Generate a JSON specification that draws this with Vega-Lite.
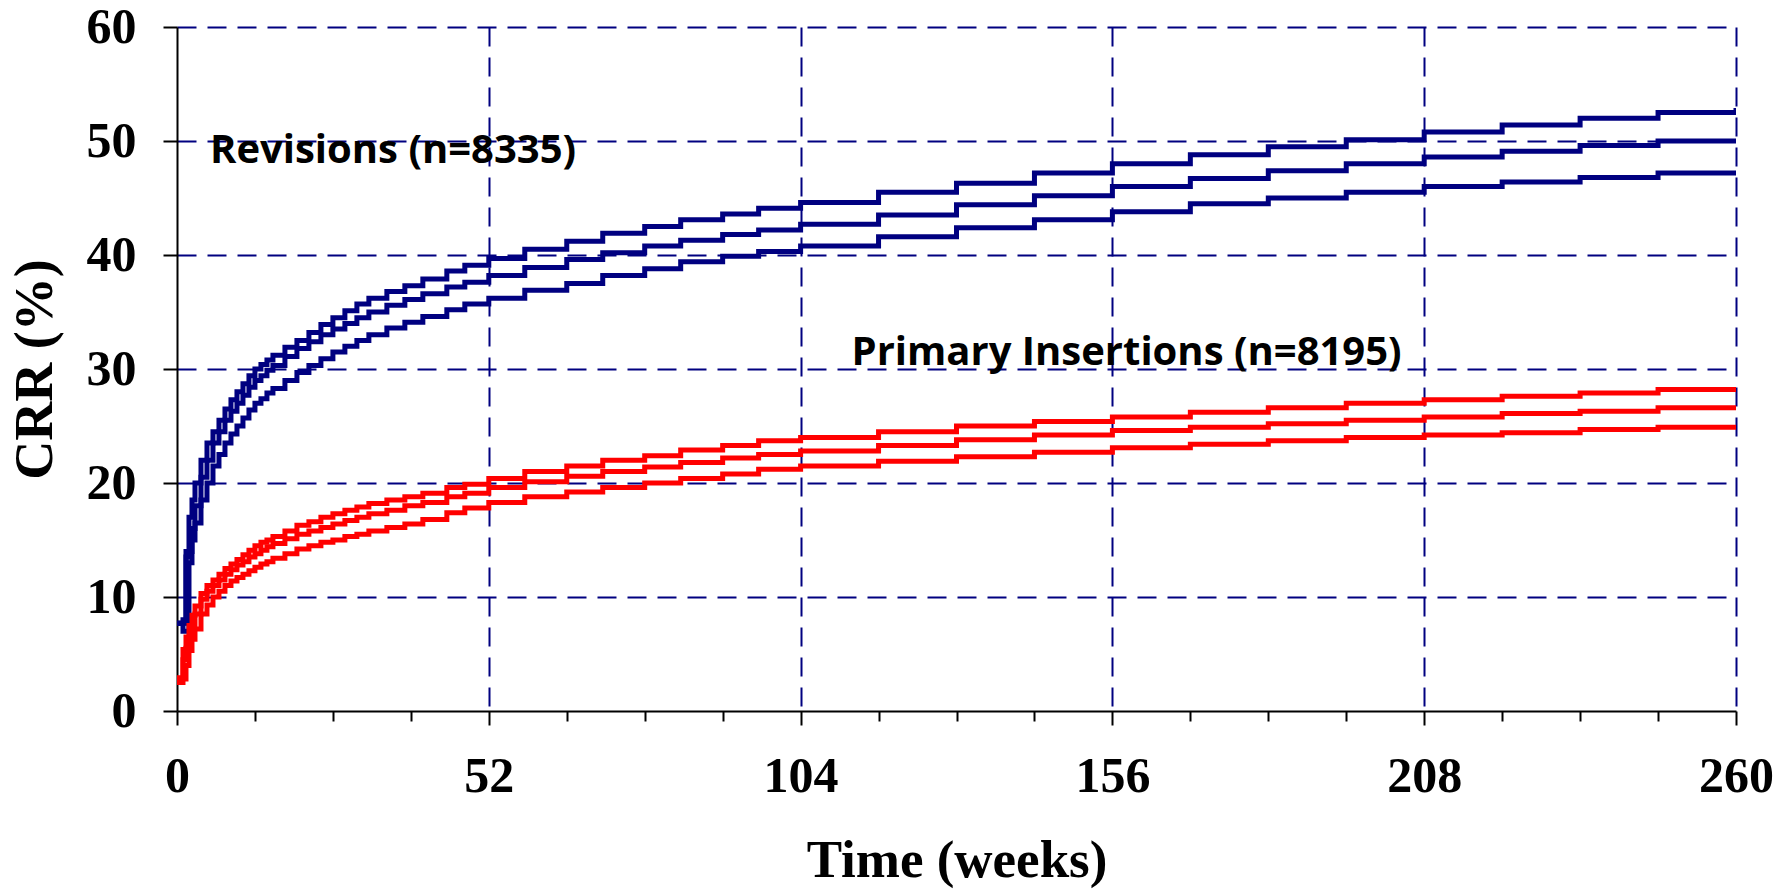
{
  "$schema": "https://vega.github.io/schema/vega-lite/v6.json",
  "width": 1559,
  "height": 684,
  "autosize": {"type": "none"},
  "padding": {"left": 177, "top": 27, "right": 56, "bottom": 182},
  "background": "white",
  "config": {"view": {"stroke": null}},
  "datasets": {
    "curves": [
      {"s":"RU","w":0,"v":7.7},{"s":"RU","w":1,"v":8},{"s":"RU","w":1.5,"v":14},{"s":"RU","w":2,"v":17},{"s":"RU","w":2.5,"v":18.5},{"s":"RU","w":3,"v":20},{"s":"RU","w":4,"v":22},{"s":"RU","w":5,"v":23.5},{"s":"RU","w":6,"v":24.5},{"s":"RU","w":7,"v":25.5},{"s":"RU","w":8,"v":26.5},{"s":"RU","w":9,"v":27.3},{"s":"RU","w":10,"v":28},{"s":"RU","w":11,"v":28.7},{"s":"RU","w":12,"v":29.4},{"s":"RU","w":13,"v":30},{"s":"RU","w":14,"v":30.4},{"s":"RU","w":15,"v":30.8},{"s":"RU","w":16,"v":31.2},{"s":"RU","w":18,"v":31.9},{"s":"RU","w":20,"v":32.5},{"s":"RU","w":22,"v":33.2},{"s":"RU","w":24,"v":33.9},{"s":"RU","w":26,"v":34.5},{"s":"RU","w":28,"v":35.1},{"s":"RU","w":30,"v":35.7},{"s":"RU","w":32,"v":36.2},{"s":"RU","w":35,"v":36.8},{"s":"RU","w":38,"v":37.3},{"s":"RU","w":41,"v":37.9},{"s":"RU","w":45,"v":38.6},{"s":"RU","w":48,"v":39.1},{"s":"RU","w":52,"v":39.7},{"s":"RU","w":58,"v":40.5},{"s":"RU","w":65,"v":41.2},{"s":"RU","w":71,"v":41.9},{"s":"RU","w":78,"v":42.5},{"s":"RU","w":84,"v":43.1},{"s":"RU","w":91,"v":43.6},{"s":"RU","w":97,"v":44.1},{"s":"RU","w":104,"v":44.6},{"s":"RU","w":117,"v":45.5},{"s":"RU","w":130,"v":46.3},{"s":"RU","w":143,"v":47.2},{"s":"RU","w":156,"v":48.0},{"s":"RU","w":169,"v":48.8},{"s":"RU","w":182,"v":49.5},{"s":"RU","w":195,"v":50.1},{"s":"RU","w":208,"v":50.8},{"s":"RU","w":221,"v":51.4},{"s":"RU","w":234,"v":52.0},{"s":"RU","w":247,"v":52.5},{"s":"RU","w":260,"v":52.9},
      {"s":"RM","w":0,"v":7.7},{"s":"RM","w":1,"v":7.7},{"s":"RM","w":1.5,"v":13.5},{"s":"RM","w":2,"v":14},{"s":"RM","w":2.5,"v":16},{"s":"RM","w":3,"v":18},{"s":"RM","w":4,"v":20.5},{"s":"RM","w":5,"v":22},{"s":"RM","w":6,"v":23.5},{"s":"RM","w":7,"v":24.5},{"s":"RM","w":8,"v":25.5},{"s":"RM","w":9,"v":26.3},{"s":"RM","w":10,"v":27},{"s":"RM","w":11,"v":27.7},{"s":"RM","w":12,"v":28.4},{"s":"RM","w":13,"v":29},{"s":"RM","w":14,"v":29.4},{"s":"RM","w":15,"v":29.9},{"s":"RM","w":16,"v":30.3},{"s":"RM","w":18,"v":31.1},{"s":"RM","w":20,"v":31.8},{"s":"RM","w":22,"v":32.4},{"s":"RM","w":24,"v":33},{"s":"RM","w":26,"v":33.5},{"s":"RM","w":28,"v":34},{"s":"RM","w":30,"v":34.5},{"s":"RM","w":32,"v":35},{"s":"RM","w":35,"v":35.6},{"s":"RM","w":38,"v":36.1},{"s":"RM","w":41,"v":36.6},{"s":"RM","w":45,"v":37.2},{"s":"RM","w":48,"v":37.6},{"s":"RM","w":52,"v":38.2},{"s":"RM","w":58,"v":38.9},{"s":"RM","w":65,"v":39.6},{"s":"RM","w":71,"v":40.2},{"s":"RM","w":78,"v":40.8},{"s":"RM","w":84,"v":41.3},{"s":"RM","w":91,"v":41.8},{"s":"RM","w":97,"v":42.2},{"s":"RM","w":104,"v":42.7},{"s":"RM","w":117,"v":43.5},{"s":"RM","w":130,"v":44.4},{"s":"RM","w":143,"v":45.2},{"s":"RM","w":156,"v":46.0},{"s":"RM","w":169,"v":46.7},{"s":"RM","w":182,"v":47.4},{"s":"RM","w":195,"v":48.0},{"s":"RM","w":208,"v":48.6},{"s":"RM","w":221,"v":49.1},{"s":"RM","w":234,"v":49.6},{"s":"RM","w":247,"v":50.0},{"s":"RM","w":260,"v":50.2},
      {"s":"RL","w":0,"v":7.7},{"s":"RL","w":1,"v":7.0},{"s":"RL","w":1.5,"v":7.0},{"s":"RL","w":2,"v":13},{"s":"RL","w":2.5,"v":15},{"s":"RL","w":3,"v":16.5},{"s":"RL","w":4,"v":18.5},{"s":"RL","w":5,"v":20},{"s":"RL","w":6,"v":21.5},{"s":"RL","w":7,"v":22.5},{"s":"RL","w":8,"v":23.5},{"s":"RL","w":9,"v":24.3},{"s":"RL","w":10,"v":25},{"s":"RL","w":11,"v":25.7},{"s":"RL","w":12,"v":26.4},{"s":"RL","w":13,"v":27},{"s":"RL","w":14,"v":27.4},{"s":"RL","w":15,"v":27.9},{"s":"RL","w":16,"v":28.3},{"s":"RL","w":18,"v":29.0},{"s":"RL","w":20,"v":29.7},{"s":"RL","w":22,"v":30.3},{"s":"RL","w":24,"v":30.9},{"s":"RL","w":26,"v":31.5},{"s":"RL","w":28,"v":32},{"s":"RL","w":30,"v":32.5},{"s":"RL","w":32,"v":33},{"s":"RL","w":35,"v":33.6},{"s":"RL","w":38,"v":34.1},{"s":"RL","w":41,"v":34.6},{"s":"RL","w":45,"v":35.2},{"s":"RL","w":48,"v":35.7},{"s":"RL","w":52,"v":36.2},{"s":"RL","w":58,"v":36.9},{"s":"RL","w":65,"v":37.5},{"s":"RL","w":71,"v":38.2},{"s":"RL","w":78,"v":38.8},{"s":"RL","w":84,"v":39.4},{"s":"RL","w":91,"v":39.9},{"s":"RL","w":97,"v":40.3},{"s":"RL","w":104,"v":40.8},{"s":"RL","w":117,"v":41.6},{"s":"RL","w":130,"v":42.4},{"s":"RL","w":143,"v":43.1},{"s":"RL","w":156,"v":43.8},{"s":"RL","w":169,"v":44.5},{"s":"RL","w":182,"v":45.0},{"s":"RL","w":195,"v":45.5},{"s":"RL","w":208,"v":46.0},{"s":"RL","w":221,"v":46.4},{"s":"RL","w":234,"v":46.8},{"s":"RL","w":247,"v":47.2},{"s":"RL","w":260,"v":47.4},
      {"s":"PU","w":0,"v":2.9},{"s":"PU","w":1,"v":5.4},{"s":"PU","w":1.5,"v":6.5},{"s":"PU","w":2,"v":7.5},{"s":"PU","w":2.5,"v":8.4},{"s":"PU","w":3,"v":9.2},{"s":"PU","w":4,"v":10.3},{"s":"PU","w":5,"v":11},{"s":"PU","w":6,"v":11.5},{"s":"PU","w":7,"v":12},{"s":"PU","w":8,"v":12.5},{"s":"PU","w":9,"v":12.9},{"s":"PU","w":10,"v":13.3},{"s":"PU","w":11,"v":13.7},{"s":"PU","w":12,"v":14.1},{"s":"PU","w":13,"v":14.5},{"s":"PU","w":14,"v":14.8},{"s":"PU","w":15,"v":15.0},{"s":"PU","w":16,"v":15.3},{"s":"PU","w":18,"v":15.8},{"s":"PU","w":20,"v":16.3},{"s":"PU","w":22,"v":16.6},{"s":"PU","w":24,"v":17.0},{"s":"PU","w":26,"v":17.3},{"s":"PU","w":28,"v":17.6},{"s":"PU","w":30,"v":17.9},{"s":"PU","w":32,"v":18.2},{"s":"PU","w":35,"v":18.5},{"s":"PU","w":38,"v":18.8},{"s":"PU","w":41,"v":19.1},{"s":"PU","w":45,"v":19.6},{"s":"PU","w":48,"v":19.9},{"s":"PU","w":52,"v":20.4},{"s":"PU","w":58,"v":21.0},{"s":"PU","w":65,"v":21.5},{"s":"PU","w":71,"v":22.0},{"s":"PU","w":78,"v":22.4},{"s":"PU","w":84,"v":22.9},{"s":"PU","w":91,"v":23.3},{"s":"PU","w":97,"v":23.7},{"s":"PU","w":104,"v":24.0},{"s":"PU","w":117,"v":24.5},{"s":"PU","w":130,"v":25.0},{"s":"PU","w":143,"v":25.4},{"s":"PU","w":156,"v":25.8},{"s":"PU","w":169,"v":26.2},{"s":"PU","w":182,"v":26.6},{"s":"PU","w":195,"v":27.0},{"s":"PU","w":208,"v":27.3},{"s":"PU","w":221,"v":27.6},{"s":"PU","w":234,"v":27.9},{"s":"PU","w":247,"v":28.2},{"s":"PU","w":260,"v":28.3},
      {"s":"PM","w":0,"v":2.9},{"s":"PM","w":1,"v":4.5},{"s":"PM","w":1.5,"v":5.5},{"s":"PM","w":2,"v":6.5},{"s":"PM","w":2.5,"v":7.5},{"s":"PM","w":3,"v":8.5},{"s":"PM","w":4,"v":9.8},{"s":"PM","w":5,"v":10.5},{"s":"PM","w":6,"v":11},{"s":"PM","w":7,"v":11.5},{"s":"PM","w":8,"v":12},{"s":"PM","w":9,"v":12.4},{"s":"PM","w":10,"v":12.8},{"s":"PM","w":11,"v":13.1},{"s":"PM","w":12,"v":13.5},{"s":"PM","w":13,"v":13.8},{"s":"PM","w":14,"v":14.1},{"s":"PM","w":15,"v":14.4},{"s":"PM","w":16,"v":14.7},{"s":"PM","w":18,"v":15.1},{"s":"PM","w":20,"v":15.5},{"s":"PM","w":22,"v":15.8},{"s":"PM","w":24,"v":16.1},{"s":"PM","w":26,"v":16.4},{"s":"PM","w":28,"v":16.7},{"s":"PM","w":30,"v":17.0},{"s":"PM","w":32,"v":17.3},{"s":"PM","w":35,"v":17.6},{"s":"PM","w":38,"v":18.0},{"s":"PM","w":41,"v":18.3},{"s":"PM","w":45,"v":18.8},{"s":"PM","w":48,"v":19.1},{"s":"PM","w":52,"v":19.6},{"s":"PM","w":58,"v":20.1},{"s":"PM","w":65,"v":20.6},{"s":"PM","w":71,"v":21.0},{"s":"PM","w":78,"v":21.4},{"s":"PM","w":84,"v":21.8},{"s":"PM","w":91,"v":22.2},{"s":"PM","w":97,"v":22.5},{"s":"PM","w":104,"v":22.8},{"s":"PM","w":117,"v":23.3},{"s":"PM","w":130,"v":23.8},{"s":"PM","w":143,"v":24.2},{"s":"PM","w":156,"v":24.6},{"s":"PM","w":169,"v":24.9},{"s":"PM","w":182,"v":25.2},{"s":"PM","w":195,"v":25.5},{"s":"PM","w":208,"v":25.8},{"s":"PM","w":221,"v":26.1},{"s":"PM","w":234,"v":26.3},{"s":"PM","w":247,"v":26.6},{"s":"PM","w":260,"v":26.8},
      {"s":"PL","w":0,"v":2.5},{"s":"PL","w":1,"v":2.8},{"s":"PL","w":1.5,"v":4.0},{"s":"PL","w":2,"v":5.3},{"s":"PL","w":2.5,"v":6.3},{"s":"PL","w":3,"v":7.2},{"s":"PL","w":4,"v":8.5},{"s":"PL","w":5,"v":9.3},{"s":"PL","w":6,"v":10},{"s":"PL","w":7,"v":10.5},{"s":"PL","w":8,"v":11},{"s":"PL","w":9,"v":11.4},{"s":"PL","w":10,"v":11.7},{"s":"PL","w":11,"v":12.0},{"s":"PL","w":12,"v":12.3},{"s":"PL","w":13,"v":12.6},{"s":"PL","w":14,"v":12.9},{"s":"PL","w":15,"v":13.1},{"s":"PL","w":16,"v":13.4},{"s":"PL","w":18,"v":13.8},{"s":"PL","w":20,"v":14.2},{"s":"PL","w":22,"v":14.5},{"s":"PL","w":24,"v":14.8},{"s":"PL","w":26,"v":15.0},{"s":"PL","w":28,"v":15.3},{"s":"PL","w":30,"v":15.5},{"s":"PL","w":32,"v":15.8},{"s":"PL","w":35,"v":16.1},{"s":"PL","w":38,"v":16.4},{"s":"PL","w":41,"v":16.8},{"s":"PL","w":45,"v":17.4},{"s":"PL","w":48,"v":17.8},{"s":"PL","w":52,"v":18.3},{"s":"PL","w":58,"v":18.8},{"s":"PL","w":65,"v":19.2},{"s":"PL","w":71,"v":19.6},{"s":"PL","w":78,"v":20.0},{"s":"PL","w":84,"v":20.4},{"s":"PL","w":91,"v":20.8},{"s":"PL","w":97,"v":21.2},{"s":"PL","w":104,"v":21.5},{"s":"PL","w":117,"v":21.9},{"s":"PL","w":130,"v":22.3},{"s":"PL","w":143,"v":22.7},{"s":"PL","w":156,"v":23.1},{"s":"PL","w":169,"v":23.4},{"s":"PL","w":182,"v":23.7},{"s":"PL","w":195,"v":24.0},{"s":"PL","w":208,"v":24.2},{"s":"PL","w":221,"v":24.4},{"s":"PL","w":234,"v":24.7},{"s":"PL","w":247,"v":24.9},{"s":"PL","w":260,"v":25.0}
    ],
    "labels": [
      {"label": "Revisions (n=8335)", "w": 5.5, "v": 48.1},
      {"label": "Primary Insertions (n=8195)", "w": 112.5, "v": 30.35}
    ]
  },
  "layer": [
    {
      "data": {"name": "curves"},
      "mark": {"type": "line", "interpolate": "step-after", "strokeWidth": 5, "clip": true},
      "encoding": {
        "x": {
          "field": "w", "type": "quantitative",
          "scale": {"domain": [0, 260], "nice": false, "zero": false},
          "axis": {
            "title": "Time (weeks)",
            "values": [0, 13, 26, 39, 52, 65, 78, 91, 104, 117, 130, 143, 156, 169, 182, 195, 208, 221, 234, 247, 260],
            "labelExpr": "datum.value % 52 === 0 ? datum.label : ''",
            "labelFont": "Liberation Serif", "labelFontWeight": "bold", "labelFontSize": 50, "labelColor": "black",
            "labelPadding": 26, "labelFlush": false, "labelOverlap": false,
            "tickColor": "black", "tickWidth": 2,
            "tickSize": {"condition": {"test": "datum.value % 52 === 0", "value": 14}, "value": 10},
            "domainColor": "black", "domainWidth": 2,
            "grid": true, "gridColor": "#000080", "gridWidth": 2, "gridDash": [19, 11],
            "gridOpacity": {"condition": {"test": "datum.value % 52 === 0 && datum.value > 0", "value": 1}, "value": 0},
            "titleFont": "Liberation Serif", "titleFontWeight": "bold", "titleFontSize": 53, "titleColor": "black",
            "titlePadding": 33
          }
        },
        "y": {
          "field": "v", "type": "quantitative",
          "scale": {"domain": [0, 60], "nice": false},
          "axis": {
            "title": "CRR (%)",
            "values": [0, 10, 20, 30, 40, 50, 60],
            "labelFont": "Liberation Serif", "labelFontWeight": "bold", "labelFontSize": 50, "labelColor": "black",
            "labelPadding": 27, "labelOverlap": false,
            "tickColor": "black", "tickWidth": 2, "tickSize": 14,
            "domainColor": "black", "domainWidth": 2,
            "grid": true, "gridColor": "#000080", "gridWidth": 2, "gridDash": [19, 11],
            "gridOpacity": {"condition": {"test": "datum.value > 0", "value": 1}, "value": 0},
            "titleFont": "Liberation Serif", "titleFontWeight": "bold", "titleFontSize": 54, "titleColor": "black",
            "titlePadding": 24
          }
        },
        "color": {
          "field": "s", "type": "nominal",
          "scale": {"domain": ["RU", "RM", "RL", "PU", "PM", "PL"], "range": ["#000080", "#000080", "#000080", "#FF0000", "#FF0000", "#FF0000"]},
          "legend": null
        }
      }
    },
    {
      "data": {"name": "labels"},
      "mark": {"type": "text", "align": "left", "baseline": "alphabetic", "font": "Open Sans", "fontWeight": "bold", "fontSize": 40, "color": "black"},
      "encoding": {
        "x": {"field": "w", "type": "quantitative"},
        "y": {"field": "v", "type": "quantitative"},
        "text": {"field": "label", "type": "nominal"}
      }
    }
  ]
}
